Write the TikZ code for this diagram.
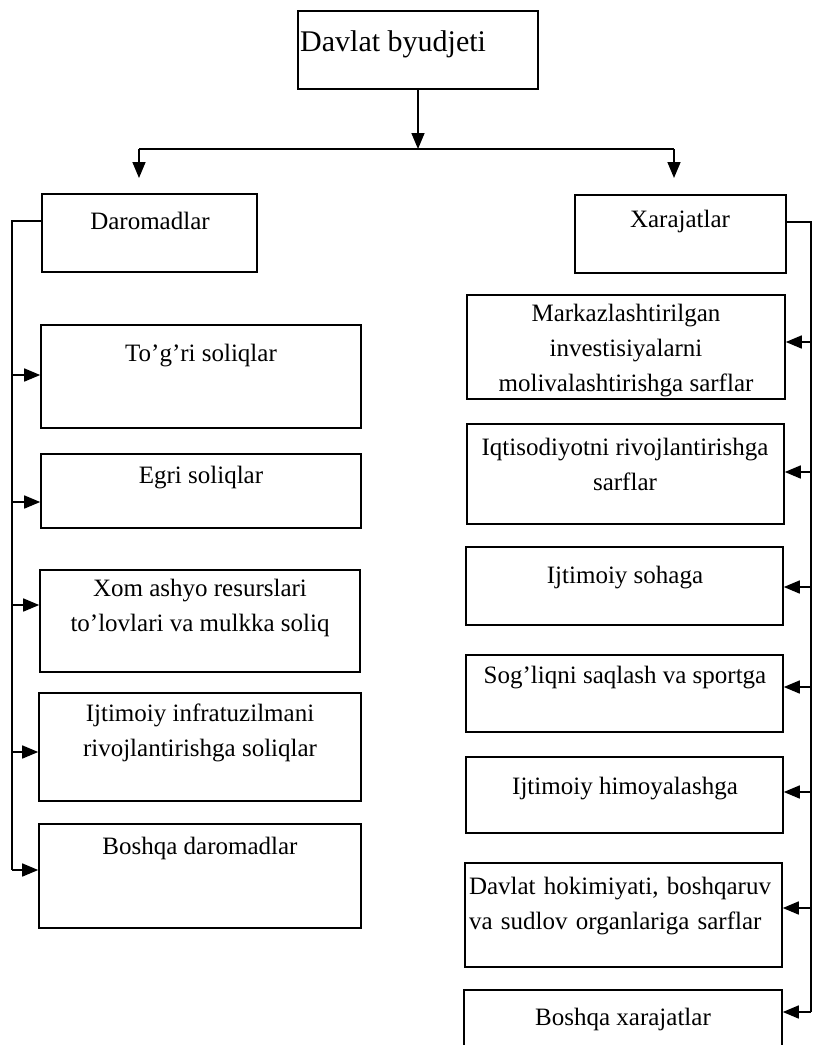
\documentclass[tikz,border=0pt]{standalone}
\usepackage{fontspec}
\setmainfont{Liberation Serif}
\usetikzlibrary{arrows.meta,calc}
\newcommand\mybox[5]{%
  \pgfmathsetmacro\bw{#4-#2}\pgfmathsetmacro\bh{#5-#3}%
  \node[box,minimum width=\bw pt,minimum height=\bh pt] (#1) at ({(#2+#4)/2},{(#3+#5)/2}) {};}
\begin{document}
\begin{tikzpicture}[x=1pt,y=-1pt,
  box/.style={draw,line width=1.6pt,inner sep=0pt},
  lbl/.style={font=\fontsize{25}{35}\selectfont,align=center,inner sep=0pt},
  ln/.style={line width=1.6pt},
  arr/.style={line width=1.6pt,-{Triangle[length=16pt,width=13pt]}}]
\clip (0,0) rectangle (815,1045);
% top
\mybox{top}{298}{11}{538}{89}
\node[lbl,font=\fontsize{30}{36}\selectfont,anchor=west] (toptxt) at (300,44) {Davlat byudjeti};
\coordinate (jn) at (418,149);
\coordinate (hl) at (139,149);
\coordinate (hr) at (674,149);
\coordinate (dl) at (139,178);
\coordinate (dr) at (674,178);
\draw[arr] (top.south) -- (jn);
\draw[ln] (hl) -- (hr);
\draw[arr] (hl) -- (dl);
\draw[arr] (hr) -- (dr);
% second level
\mybox{dar}{42}{194}{257}{272}
\node[lbl] (dartxt) at (150,221) {Daromadlar};
\mybox{xar}{575}{195}{786}{273}
\node[lbl] (xartxt) at (680,221) {Xarajatlar};
% left boxes
\mybox{L1}{41}{325}{361}{428}
\node[lbl] (L1t) at (201,356) {To’g’ri soliqlar};
\mybox{L2}{41}{454}{361}{528}
\node[lbl] (L2t) at (201,478) {Egri soliqlar};
\mybox{L3}{40}{570}{360}{672}
\node[lbl] (L3t) at (200,608) {Xom ashyo resurslari\\to’lovlari va mulkka soliq};
\mybox{L4}{39}{693}{361}{801}
\node[lbl] (L4t) at (200,733) {Ijtimoiy infratuzilmani\\rivojlantirishga soliqlar};
\mybox{L5}{39}{824}{361}{928}
\node[lbl] (L5t) at (200,848) {Boshqa daromadlar};
% left bus
\coordinate (lbtop) at (12,221);
\coordinate (lbbot) at (12,870);
\draw[ln] (dar.west |- lbtop) -- (lbtop) -- (lbbot);
\coordinate (la1) at (12,375);
\coordinate (la2) at (12,502);
\coordinate (la3) at (12,605);
\coordinate (la4) at (12,752);
\draw[arr] (la1) -- (la1 -| L1.west);
\draw[arr] (la2) -- (la2 -| L2.west);
\draw[arr] (la3) -- (la3 -| L3.west);
\draw[arr] (la4) -- (la4 -| L4.west);
\draw[arr] (lbbot) -- (lbbot -| L5.west);
% right boxes
\mybox{R1}{467}{295}{785}{399}
\node[lbl] (R1t) at (626,351) {Markazlashtirilgan\\investisiyalarni\\molivalashtirishga sarflar};
\mybox{R2}{467}{424}{784}{524}
\node[lbl] (R2t) at (625,464) {Iqtisodiyotni rivojlantirishga\\sarflar};
\mybox{R3}{466}{547}{783}{625}
\node[lbl] (R3t) at (625,578) {Ijtimoiy sohaga};
\mybox{R4}{466}{655}{783}{732}
\node[lbl] (R4t) at (625,678) {Sog’liqni saqlash va sportga};
\mybox{R5}{466}{757}{783}{833}
\node[lbl] (R5t) at (625,789) {Ijtimoiy himoyalashga};
\mybox{R6}{465}{863}{782}{967}
\node[lbl,text width=312pt,align=left] (R6t) at (625,906) {\makebox[\linewidth][s]{Davlat hokimiyati, boshqaruv}\\va sudlov organlariga sarflar};
\mybox{R7}{464}{990}{782}{1070}
\node[lbl] (R7t) at (623,1019) {Boshqa xarajatlar};
% right bus
\coordinate (rbtop) at (811,222);
\coordinate (rbbot) at (811,1012);
\draw[ln] (xar.east |- rbtop) -- (rbtop) -- (rbbot);
\coordinate (ra1) at (811,342);
\coordinate (ra2) at (811,472);
\coordinate (ra3) at (811,587);
\coordinate (ra4) at (811,687);
\coordinate (ra5) at (811,792);
\coordinate (ra6) at (811,908);
\draw[arr] (ra1) -- (ra1 -| R1.east);
\draw[arr] (ra2) -- (ra2 -| R2.east);
\draw[arr] (ra3) -- (ra3 -| R3.east);
\draw[arr] (ra4) -- (ra4 -| R4.east);
\draw[arr] (ra5) -- (ra5 -| R5.east);
\draw[arr] (ra6) -- (ra6 -| R6.east);
\draw[arr] (rbbot) -- (rbbot -| R7.east);
\end{tikzpicture}
\end{document}
